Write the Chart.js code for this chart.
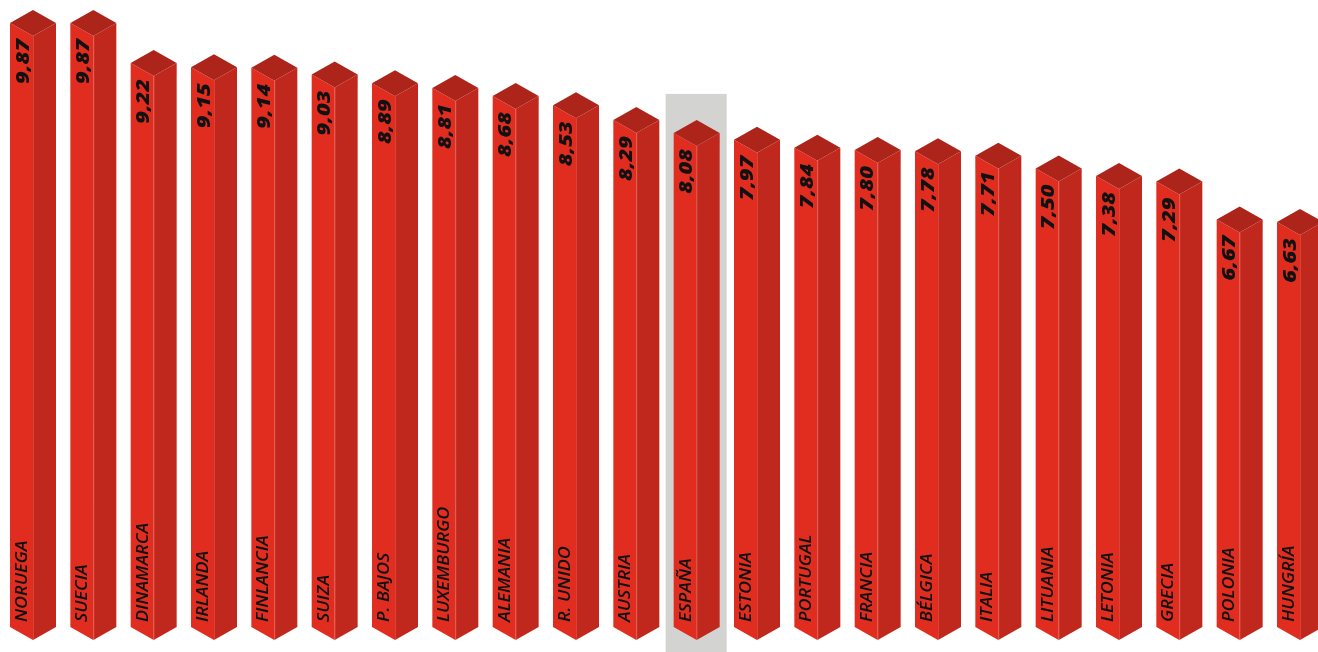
<!DOCTYPE html>
<html>
<head>
<meta charset="utf-8">
<script src="https://cdn.jsdelivr.net/npm/chart.js@4"></script>
<style>
  html, body { margin: 0; padding: 0; background: #ffffff; }
  #wrap { width: 1318px; height: 652px; position: relative; overflow: hidden; }
</style>
</head>
<body>
<div id="wrap"><canvas id="chart"></canvas></div>
<script>
// Data
const countries = ['NORUEGA', 'SUECIA', 'DINAMARCA', 'IRLANDA', 'FINLANCIA', 'SUIZA', 'P. BAJOS',
  'LUXEMBURGO', 'ALEMANIA', 'R. UNIDO', 'AUSTRIA', 'ESPAÑA', 'ESTONIA', 'PORTUGAL', 'FRANCIA',
  'BÉLGICA', 'ITALIA', 'LITUANIA', 'LETONIA', 'GRECIA', 'POLONIA', 'HUNGRÍA'];
const scores = [9.87, 9.87, 9.22, 9.15, 9.14, 9.03, 8.89, 8.81, 8.68, 8.53, 8.29, 8.08,
  7.97, 7.84, 7.80, 7.78, 7.71, 7.50, 7.38, 7.29, 6.67, 6.63];
const highlighted = ['ESPAÑA'];

// colours
const COLOR_FRONT = '#e12d1f';
const COLOR_SIDE = '#c1281d';
const COLOR_TOP = '#ad241a';
const COLOR_HIGHLIGHT = '#d3d3d1';
const COLOR_TEXT = '#111111';

const HALF_W = 23;   // width of one face
const DEPTH = 13;    // isometric drop of the cap
const FOOT = 11;     // bars run a bit below the zero line

// vertical text, reading upwards, stretched a little along its run
function upText(ctx, text, x, y, font, stretch, align) {
  ctx.save();
  ctx.translate(x, y);
  ctx.rotate(-Math.PI / 2);
  ctx.scale(stretch, 1);
  ctx.fillStyle = COLOR_TEXT;
  ctx.font = font;
  ctx.textAlign = align;
  ctx.textBaseline = 'middle';
  ctx.fillText(text, 0, 1);
  ctx.restore();
}

const columns3d = {
  id: 'columns3d',
  beforeDatasetsDraw(chart) {
    const { ctx } = chart;
    const meta = chart.getDatasetMeta(0);
    ctx.save();
    ctx.fillStyle = COLOR_HIGHLIGHT;
    meta.data.forEach((el, i) => {
      if (!highlighted.includes(countries[i])) return;
      const top = el.y - 2 * DEPTH;
      ctx.fillRect(el.x - 31, top, 61, chart.height - top);
    });
    ctx.restore();
  },
  afterDatasetsDraw(chart) {
    const { ctx } = chart;
    const meta = chart.getDatasetMeta(0);
    ctx.save();
    meta.data.forEach((el, i) => {
      const x = el.x;
      const top = el.y;
      const bot = el.base + FOOT;

      // front face
      ctx.fillStyle = COLOR_FRONT;
      ctx.beginPath();
      ctx.moveTo(x - HALF_W, top + DEPTH);
      ctx.lineTo(x, top + 2 * DEPTH);
      ctx.lineTo(x, bot + DEPTH);
      ctx.lineTo(x - HALF_W, bot);
      ctx.closePath();
      ctx.fill();

      // side face
      ctx.fillStyle = COLOR_SIDE;
      ctx.beginPath();
      ctx.moveTo(x, top + 2 * DEPTH);
      ctx.lineTo(x + HALF_W, top + DEPTH);
      ctx.lineTo(x + HALF_W, bot);
      ctx.lineTo(x, bot + DEPTH);
      ctx.closePath();
      ctx.fill();

      // cap
      ctx.fillStyle = COLOR_TOP;
      ctx.beginPath();
      ctx.moveTo(x, top);
      ctx.lineTo(x + HALF_W, top + DEPTH);
      ctx.lineTo(x, top + 2 * DEPTH);
      ctx.lineTo(x - HALF_W, top + DEPTH);
      ctx.closePath();
      ctx.fill();

      // faint edge between the faces
      ctx.strokeStyle = 'rgba(255, 120, 100, 0.35)';
      ctx.lineWidth = 1;
      ctx.beginPath();
      ctx.moveTo(x + 0.5, top + 2 * DEPTH);
      ctx.lineTo(x + 0.5, bot + DEPTH);
      ctx.stroke();

      const cx = x - HALF_W / 2 + 1;
      upText(ctx, scores[i].toFixed(2).replace('.', ','), cx, top + 2 * DEPTH + 3,
        'italic 800 18px "Open Sans"', 1.22, 'right');
      upText(ctx, countries[i], cx - 1, bot - 5,
        'italic 600 16px "Open Sans"', 1.12, 'left');
    });
    ctx.restore();
  }
};

new Chart(document.getElementById('chart'), {
  type: 'bar',
  data: {
    labels: countries,
    datasets: [{
      data: scores,
      backgroundColor: 'rgba(0,0,0,0)',
      borderWidth: 0
    }]
  },
  plugins: [columns3d],
  options: {
    responsive: true,
    maintainAspectRatio: false,
    animation: false,
    layout: { padding: { left: 33, right: 18, top: 0, bottom: 36 } },
    scales: {
      x: { display: false, offset: false },
      y: { display: false, min: 0, max: 10.033 }
    },
    plugins: {
      legend: { display: false },
      tooltip: { enabled: false }
    }
  }
});
</script>
</body>
</html>
